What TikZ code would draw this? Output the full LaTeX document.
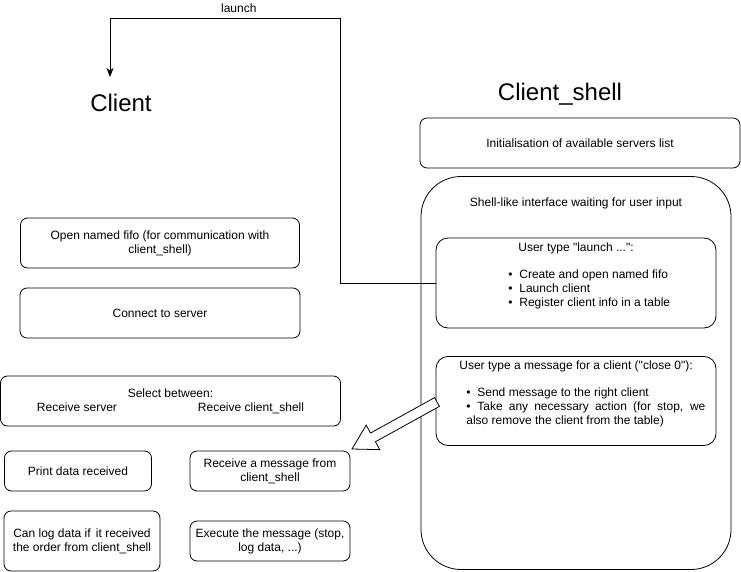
\documentclass[tikz,border=0pt]{standalone}
\usepackage{fontspec}
\setmainfont{Liberation Sans}[Ligatures=TeXOff]
\usetikzlibrary{arrows.meta,calc}
\newcommand\bul{\makebox[11pt][l]{\textbullet}}

\begin{document}
\begin{tikzpicture}[x=1pt,y=-1pt,line width=0.8pt,
	font=\fontsize{12}{14}\selectfont,
	box/.style={draw,rounded corners=7pt,align=center},
	inbox/.style={draw,rounded corners=12pt},
	title/.style={font=\fontsize{24}{28}\selectfont},
	listtxt/.style={anchor=north west,inner sep=0pt,align=left}]
	\useasboundingbox (0,0) rectangle (741,572);
	% client
	\node[title] (client) at (121,103) {Client};
	\node[box,minimum width=279,minimum height=50] (fifo) at (160,243) {Open named fifo (for communication with\\client\_shell)};
	\node[box,minimum width=280,minimum height=50] (connect) at (160,313) {Connect to server};
	\node[box,minimum width=340,minimum height=50] (select) at (170.5,401) {Select between:\\Receive server\hspace{81pt}Receive client\_shell};
	\node[box,minimum width=147,minimum height=40] (print) at (78,471) {Print data received};
	\node[box,minimum width=160,minimum height=40] (recv) at (270,471) {Receive a message from\\client\_shell};
	\node[box,minimum width=156,minimum height=60] (log) at (82,541) {Can log data if\, it received\\the order from client\_shell};
	\node[box,minimum width=160,minimum height=40] (exec) at (270,541) {Execute the message (stop,\\log data, ...)};
	% client_shell
	\node[title] (shell) at (560,94) {Client\_shell};
	\node[box,minimum width=320,minimum height=50] (init) at (580,143) {Initialisation of available servers list};
	\node[draw,rounded corners=40pt,minimum width=310,minimum height=393] (shellbox) at (576,373) {};
	\node (shelltitle) at (576,203) {Shell-like interface waiting for user input};
	\node[inbox,minimum width=280,minimum height=90] (launchbox) at (576,283) {};
	\node (launchhead) at (576,248) {User type "launch ...":};
	\node[listtxt] (launchlist) at (508,269) {\bul Create and open named fifo\\\bul Launch client\\\bul Register client info in a table};
	\node[inbox,minimum width=280,minimum height=89] (msgbox) at (576,401) {};
	\node (msghead) at (576,366) {User type a message for a client ("close 0"):};
	\node[listtxt,text width=239,align=justify] (msglist) at (466,387.5) {\hyphenpenalty=10000\parindent=0pt
		\bul Send message to the right client\par
		\hangindent=11pt\hangafter=1\bul Take any necessary action (for stop, we also remove the client from the table)};
	% launch connector
	\coordinate (bend) at (340,18);
	\coordinate (clientin) at (110,77);
	\draw[-{Stealth[length=9pt,width=7pt,inset=2.5pt]}] (launchbox.west) -| (bend) -| node[pos=0.22,above=2pt] {launch} (clientin);
	% message arrow
	\coordinate (msgtail) at (437,402);
	\coordinate (msgtip) at (352,449);
	\coordinate (neck) at ($(msgtip)!24pt!(msgtail)$);
	\draw[fill=white] ($(msgtail)!5pt!90:(msgtip)$) -- ($(neck)!5pt!-90:(msgtail)$) -- ($(neck)!14pt!-90:(msgtail)$) -- (msgtip)
		-- ($(neck)!14pt!90:(msgtail)$) -- ($(neck)!5pt!90:(msgtail)$) -- ($(msgtail)!5pt!-90:(msgtip)$) -- cycle;
\end{tikzpicture}
\end{document}
